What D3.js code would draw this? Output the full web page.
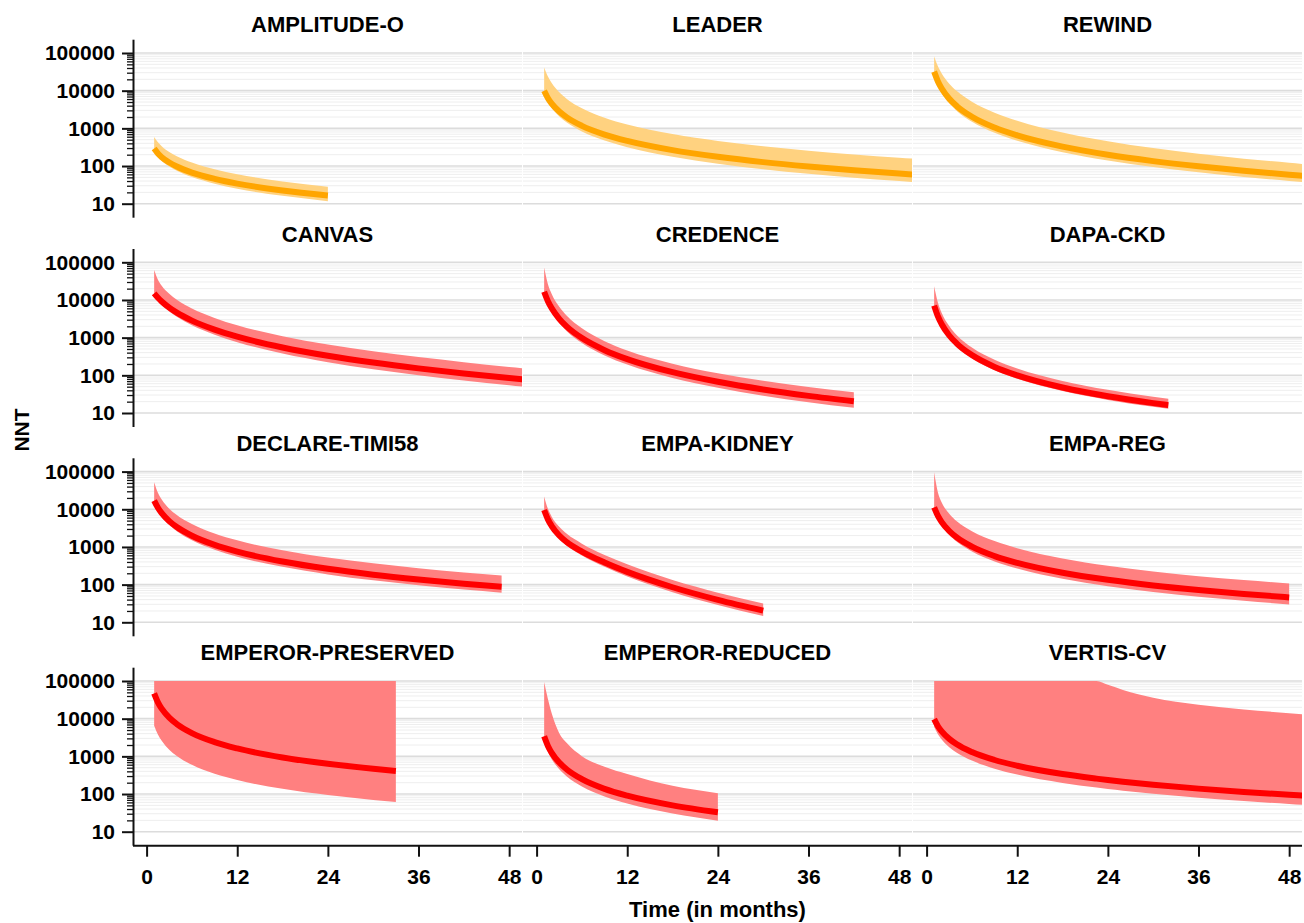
<!DOCTYPE html>
<html>
<head>
<meta charset="utf-8">
<script src="https://cdn.jsdelivr.net/npm/d3@7"></script>
<style>
  body { margin: 0; background: #fff; }
  svg text { font-family: "Liberation Sans", Arial, sans-serif; font-weight: bold; fill: #000; }
</style>
</head>
<body>
<svg id="grafico" width="1304" height="923"></svg>
<script>

// nomi dei trial, nell'ordine dei pannelli (righe da 3)
const trialNames = ["AMPLITUDE-O", "LEADER", "REWIND",
    "CANVAS", "CREDENCE", "DAPA-CKD",
    "DECLARE-TIMI58", "EMPA-KIDNEY", "EMPA-REG",
    "EMPEROR-PRESERVED", "EMPEROR-REDUCED", "VERTIS-CV"];

// classe del farmaco: GLP-1 (arancio) o SGLT2 (rosso)
const trialClass = ["glp1", "glp1", "glp1",
    "sglt2", "sglt2", "sglt2",
    "sglt2", "sglt2", "sglt2",
    "sglt2", "sglt2", "sglt2"];

// mesi in cui e' letta la curva di ogni trial
const trialMonths = [
    [1, 1.5, 2, 3, 4, 6, 9, 12, 18, 24],
    [1, 1.5, 2, 3, 4, 6, 9, 12, 18, 24, 30, 36, 42, 48, 50],
    [1, 1.5, 2, 3, 4, 6, 9, 12, 18, 24, 30, 36, 42, 48, 50],
    [1, 1.5, 2, 3, 4, 6, 9, 12, 18, 24, 30, 36, 42, 48, 50],
    [1, 1.5, 2, 3, 4, 6, 9, 12, 18, 24, 30, 36, 42],
    [1, 1.5, 2, 3, 4, 6, 9, 12, 18, 24, 30, 32],
    [1, 1.5, 2, 3, 4, 6, 9, 12, 18, 24, 30, 36, 42, 47],
    [1, 1.5, 2, 3, 4, 6, 9, 12, 18, 24, 30],
    [1, 1.5, 2, 3, 4, 6, 9, 12, 18, 24, 30, 36, 42, 48],
    [1, 1.5, 2, 3, 4, 6, 9, 12, 18, 24, 30, 33],
    [1, 1.5, 2, 3, 4, 6, 9, 12, 18, 24],
    [1, 1.5, 2, 3, 4, 6, 9, 12, 18, 22.5, 24, 26, 30, 36, 42, 48, 50]
];

// NNT stimato
const trialNnt = [
    [290, 215, 172, 124, 97, 67, 45.6, 34.2, 22.4, 16.5],
    [10000, 6333, 4529, 2786, 1952, 1165, 684, 464, 264, 176, 127, 97.2, 77.3, 63.2, 59.4],
    [32000, 17580, 11390, 6107, 3888, 2035, 1050, 650, 327, 199, 135, 98, 74.5, 58.6, 54.4],
    [15000, 11480, 9130, 6266, 4610, 2834, 1634, 1062, 549, 330, 218, 153, 112, 85, 77.9],
    [16600, 9280, 6010, 3163, 1962, 972, 465, 269, 121, 67.3, 42.1, 28.5, 20.4],
    [7100, 3657, 2266, 1142, 697, 344, 167, 99.6, 47.4, 27.8, 18.3, 16.2],
    [16980, 10950, 7882, 4852, 3381, 1987, 1136, 751, 410, 262.6, 184, 137, 106, 87.7],
    [9594, 5397, 3585, 2017, 1341, 754, 386, 218, 85.2, 39.4, 20.4],
    [11220, 6663, 4566, 2653, 1789, 1017, 571, 376, 206, 134, 95, 71.8, 56.5, 45.8],
    [46990, 27140, 18370, 10610, 7183, 4148, 2395, 1622, 936, 634, 469, 411],
    [3396, 1879, 1234, 683, 449, 248, 137, 90.3, 50, 32.8],
    [9705, 6281, 4578, 2906, 2089, 1300, 800, 563, 339, 256, 235, 212, 176.5, 139, 113.7, 95.3, 90.2]
];

// limite inferiore dell'intervallo
const trialLower = [
    [240, 175, 138, 97, 74.8, 50.9, 34, 25.1, 16.2, 11.7],
    [7943, 4909, 3451, 2072, 1427, 830, 476, 317, 177, 115, 82.3, 62.3, 49.1, 39.8, 37.3],
    [25000, 13560, 8700, 4605, 2903, 1499, 763, 468, 233, 140, 94.3, 68, 51.4, 40.3, 37.4],
    [12910, 9590, 7464, 4968, 3578, 2133, 1193, 759, 380, 224, 145, 100.5, 72.9, 54.7, 50],
    [13490, 7390, 4719, 2433, 1488, 722, 338, 193, 85.3, 46.7, 28.9, 19.4, 13.7],
    [5970, 3058, 1887, 945, 574, 281, 136, 80.7, 38.2, 22.3, 14.6, 12.9],
    [13960, 8840, 6283, 3797, 2612, 1507, 846, 552, 296, 187, 130, 95.8, 73.7, 60.7],
    [8260, 4548, 2976, 1639, 1072, 590, 296, 164.6, 62.9, 28.7, 14.6],
    [9397, 5436, 3656, 2069, 1370, 758, 414, 268, 143, 91, 63.8, 47.6, 37.1, 29.8],
    [6501, 3784, 2578, 1501, 1022, 595, 346, 236, 137, 93.5, 69.4, 61],
    [2404, 1301, 841, 455, 294, 159, 86.2, 55.8, 30.2, 19.5],
    [5984, 3842, 2784, 1752, 1253, 773, 472, 330, 197.5, 148, 136, 122.6, 101.7, 80, 65.1, 54.4, 51.4]
];

// limite superiore (tagliato a 100000 nel grafico)
const trialUpper = [
    [590, 429, 337, 237, 182, 124, 82, 60.7, 38.9, 28],
    [41000, 23600, 15900, 9060, 6050, 3410, 1915, 1267, 704, 462, 333, 254, 202, 166, 156],
    [80350, 44160, 28610, 15340, 9768, 5112, 2607, 1597, 777, 457, 299, 212, 157, 122, 112],
    [62500, 34670, 24030, 14690, 10090, 5921, 3336, 2120, 1095, 658, 434, 305, 223, 166, 152],
    [72440, 26150, 14420, 6610, 3825, 1769, 808, 458, 203.5, 113, 71.5, 49, 35.8],
    [22960, 8379, 4521, 2032, 1156, 545, 259, 151, 71, 41.1, 27, 23.9],
    [52480, 27500, 18060, 10370, 7063, 4057, 2267, 1499, 818, 524, 367, 273, 211, 175],
    [21980, 10280, 6377, 3425, 2224, 1223, 612, 345.6, 132, 61.1, 31.5],
    [95500, 27780, 15120, 7650, 4818, 2615, 1434, 922, 495, 317, 223, 168, 132, 107],
    [100000, 100000, 100000, 100000, 100000, 100000, 100000, 100000, 100000, 100000, 100000, 100000],
    [93540, 33420, 13850, 4118, 2249, 1012, 529, 339, 165, 105],
    [100000, 100000, 100000, 100000, 100000, 100000, 100000, 100000, 100000, 100000, 79000, 58000, 36000, 23500, 17500, 14000, 13000]
];

// etichette degli assi
const yTicks = [10, 100, 1000, 10000, 100000];
const xTicks = [0, 12, 24, 36, 48];

// colori per classe
const lineColor = { glp1: "#FFA500", sglt2: "#FF0000" };
const bandColor = { glp1: "#FFD280", sglt2: "#FF8080" };


// geometria dei pannelli
const colLeft = [133, 523, 913];
const rowTop = [39.7, 249, 458.3, 667.7];
const panelW = 389;
const panelH = 178;
const cap = 100000;

let svg = d3.select("#grafico");

let x = d3.scaleLinear().domain([-1.8, 49.7]).range([0, panelW]);
let y = d3.scaleLog().domain([4.25, 225400]).range([panelH, 0]);

// linee della griglia: maggiori e minori
let minorTicks = [];
for (let e = 1; e < 5; e++) {
    for (let k = 2; k <= 9; k++) {
        minorTicks.push(k * Math.pow(10, e));
    }
}

let line = d3.line()
    .x((d) => x(d.t))
    .y((d) => y(d.v))
    .curve(d3.curveMonotoneX);

let area = d3.area()
    .x((d) => x(d.t))
    .y0((d) => y(d.lo))
    .y1((d) => y(Math.min(d.hi, cap)))
    .curve(d3.curveMonotoneX);

trialNames.forEach((name, i) => {
    let r = Math.floor(i / 3);
    let c = i % 3;
    let g = svg.append("g")
        .attr("transform", `translate(${colLeft[c]},${rowTop[r]})`);

    svg.append("clipPath").attr("id", "clip" + i)
        .append("rect").attr("width", panelW).attr("height", panelH);

    // griglia
    g.selectAll(".minor").data(minorTicks).enter().append("line")
        .attr("x1", 0).attr("x2", panelW)
        .attr("y1", (d) => y(d)).attr("y2", (d) => y(d))
        .style("stroke", "#eeeeee").style("stroke-width", 1);
    g.selectAll(".major").data(yTicks).enter().append("line")
        .attr("x1", 0).attr("x2", panelW)
        .attr("y1", (d) => y(d)).attr("y2", (d) => y(d))
        .style("stroke", "#dcdcdc").style("stroke-width", 1.6);

    let punti = trialMonths[i].map((t, j) => ({
        t: t,
        v: trialNnt[i][j],
        lo: trialLower[i][j],
        hi: trialUpper[i][j]
    }));

    let cls = trialClass[i];
    let plot = g.append("g").attr("clip-path", `url(#clip${i})`);

    plot.append("path").datum(punti)
        .attr("d", area)
        .style("fill", bandColor[cls]);

    plot.append("path").datum(punti)
        .attr("d", line)
        .style("fill", "none")
        .style("stroke", lineColor[cls])
        .style("stroke-width", 6);

    // titolo del pannello
    g.append("text")
        .attr("x", panelW / 2)
        .attr("y", -15.4)
        .attr("dy", "0.36em")
        .style("text-anchor", "middle")
        .style("font-size", "22px")
        .text(name);

    // asse y solo nella prima colonna
    if (c === 0) {
        let minorAxis = g.append("g")
            .call(d3.axisLeft(y).tickValues(minorTicks).tickSize(6).tickFormat(""));
        minorAxis.select(".domain").remove();
        minorAxis.selectAll("line").style("stroke", "#111").style("stroke-width", 1.3);

        let yAxis = g.append("g")
            .call(d3.axisLeft(y).tickValues(yTicks).tickSize(11).tickSizeOuter(0)
                .tickPadding(7).tickFormat(d3.format("d")));
        yAxis.select(".domain").attr("d", `M0.5,0V${panelH}`)
            .style("stroke", "#111").style("stroke-width", 2);
        yAxis.selectAll("line").style("stroke", "#111").style("stroke-width", 2);
        yAxis.selectAll("text").style("font-size", "21px").style("font-family", null);
    }

    // asse x solo nell'ultima riga
    if (r === 3) {
        let xAxis = g.append("g")
            .attr("transform", `translate(0,${panelH})`)
            .call(d3.axisBottom(x).tickValues(xTicks).tickSize(11).tickPadding(12));
        xAxis.select(".domain").remove();
        xAxis.selectAll("line").style("stroke", "#111").style("stroke-width", 2);
        xAxis.selectAll("text").style("font-size", "21px").style("font-family", null);
    }
});

// linea continua dell'asse x
let yBottom = rowTop[3] + panelH;
svg.append("line")
    .attr("x1", colLeft[0]).attr("x2", colLeft[2] + panelW)
    .attr("y1", yBottom).attr("y2", yBottom)
    .style("stroke", "#111").style("stroke-width", 2);

// titoli degli assi
svg.append("text")
    .attr("transform", "translate(21,430) rotate(-90)")
    .attr("dy", "0.36em")
    .style("text-anchor", "middle")
    .style("font-size", "21px")
    .text("NNT");

svg.append("text")
    .attr("x", (colLeft[0] + colLeft[2] + panelW) / 2)
    .attr("y", 909)
    .attr("dy", "0.36em")
    .style("text-anchor", "middle")
    .style("font-size", "22px")
    .text("Time (in months)");

</script>
</body>
</html>
